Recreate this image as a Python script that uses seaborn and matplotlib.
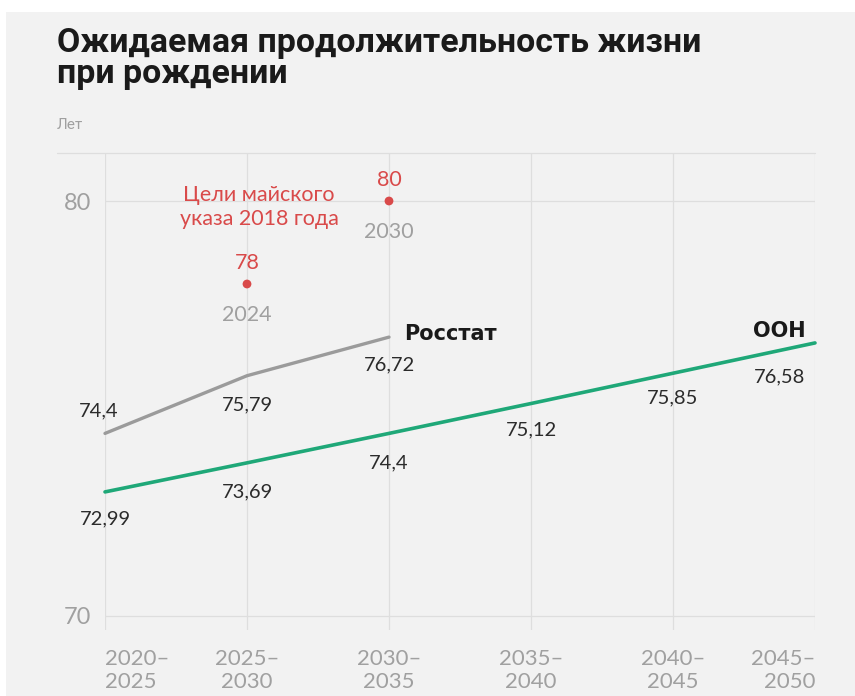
import matplotlib
matplotlib.use("Agg")
import matplotlib.pyplot as plt
import seaborn as sns
import pandas as pd
from matplotlib.patches import Rectangle

# ---- data ----
periods = ["2020–\n2025", "2025–\n2030", "2030–\n2035", "2035–\n2040", "2040–\n2045", "2045–\n2050"]
rosstat = [74.4, 75.79, 76.72]
un = [72.99, 73.69, 74.4, 75.12, 75.85, 76.58]
target_years = ["2024", "2030"]
target_values = [78, 80]
target_period_idx = [1, 2]
yticks = [70, 80]

def fmt(v):
    s = f"{v:.2f}".rstrip("0").rstrip(".")
    return s.replace(".", ",")

sns.set_theme(style="white")
plt.rcParams["font.family"] = ["Lato", "DejaVu Sans"]

BG = "#f2f2f2"
GRID = "#dedede"
GRAY_TXT = "#a0a0a0"
RED = "#d94a4a"
GREEN = "#1fa878"
LINE_GRAY = "#9b9b9b"
DARK = "#2b2b2b"

fig = plt.figure(figsize=(8.55, 6.96), dpi=100)
fig.patch.set_facecolor("white")
fig.patches.append(Rectangle((6 / 855, 0), 1, 1 - 12 / 696, transform=fig.transFigure,
                             facecolor=BG, edgecolor="none", zorder=-10))

L, R, T, B = 105, 815, 153, 630
ax = fig.add_axes([L / 855, 1 - B / 696, (R - L) / 855, (B - T) / 696])
ax.set_facecolor(BG)
ppu = 41.5
ax.set_ylim(70 - (B - 616) / ppu, 80 + (201 - T) / ppu)
ax.set_xlim(0, len(periods) - 1)
for s in ax.spines.values():
    s.set_visible(False)

# grid
for i in range(len(periods)):
    ax.axvline(i, color=GRID, lw=0.9, zorder=0)
for yv in yticks:
    ax.axhline(yv, color=GRID, lw=0.9, zorder=0)
ax.axhline(ax.get_ylim()[1], xmin=(57 - L) / (R - L), xmax=1, color=GRID, lw=0.9,
           clip_on=False, zorder=0)

# lines
df_r = pd.DataFrame({"x": range(len(rosstat)), "y": rosstat})
df_u = pd.DataFrame({"x": range(len(un)), "y": un})
sns.lineplot(data=df_r, x="x", y="y", ax=ax, color=LINE_GRAY, lw=2.4, zorder=3, clip_on=False)
sns.lineplot(data=df_u, x="x", y="y", ax=ax, color=GREEN, lw=2.6, zorder=3, clip_on=False)

# targets
df_t = pd.DataFrame({"x": target_period_idx, "y": target_values})
sns.scatterplot(data=df_t, x="x", y="y", ax=ax, color=RED, s=40, edgecolor="none", zorder=4)
for xi, v, yr in zip(target_period_idx, target_values, target_years):
    ax.annotate(str(v), (xi, v), xytext=(0, 21), textcoords="offset pixels",
                ha="center", va="center", color=RED, fontsize=15.5)
    ax.annotate(yr, (xi, v), xytext=(0, -31), textcoords="offset pixels",
                ha="center", va="center", color=GRAY_TXT, fontsize=15.5)
ax.annotate("Цели майского\nуказа 2018 года", (1, 80), xytext=(12, -6), textcoords="offset pixels",
            ha="center", va="center", color=RED, fontsize=15.5, linespacing=1.3)

# value labels
r_off = [(-6, 23), (0, -29), (0, -28)]
for i, v in enumerate(rosstat):
    dx, dy = r_off[i]
    ax.annotate(fmt(v), (i, v), xytext=(dx, dy), textcoords="offset pixels",
                ha="center", va="center", color=DARK, fontsize=14.5)
u_off = [(0, -27), (0, -29), (0, -29), (0, -26), (0, -25), (-35, -34)]
for i, v in enumerate(un):
    dx, dy = u_off[i]
    ax.annotate(fmt(v), (i, v), xytext=(dx, dy), textcoords="offset pixels",
                ha="center", va="center", color=DARK, fontsize=14.5)

ax.annotate("Росстат", (len(rosstat) - 1, rosstat[-1]), xytext=(15, 3), textcoords="offset pixels",
            ha="left", va="center", color="#1a1a1a", fontsize=15, fontweight="bold",
            family=["DejaVu Sans"])
ax.annotate("ООН", (len(un) - 1, un[-1]), xytext=(-9, 12), textcoords="offset pixels",
            ha="right", va="center", color="#1a1a1a", fontsize=15, fontweight="bold",
            family=["DejaVu Sans"])

# ticks
ax.set_yticks(yticks)
ax.set_yticklabels([str(t) for t in yticks], color=GRAY_TXT, fontsize=17)
ax.tick_params(axis="y", length=0, pad=10)
ax.set_xticks(range(len(periods)))
ax.set_xticklabels(periods, color=GRAY_TXT, fontsize=16, linespacing=1.18)
ax.tick_params(axis="x", length=0, pad=14)
labs = ax.get_xticklabels()
labs[0].set_ha("left")
labs[-1].set_ha("right")
ax.set_xlabel("")
ax.set_ylabel("")

# title
fig.text(57 / 855, 1 - 27 / 696, "Ожидаемая продолжительность жизни\nпри рождении",
         ha="left", va="top", fontsize=24.4, fontweight="bold", color="#1a1a1a",
         linespacing=0.97, family=["Roboto", "DejaVu Sans"])
fig.text(57 / 855, 1 - 125 / 696, "Лет", ha="left", va="center", fontsize=11,
         color=GRAY_TXT, family=["Roboto", "DejaVu Sans"])

fig.savefig("out.png", dpi=100, facecolor=fig.get_facecolor())
